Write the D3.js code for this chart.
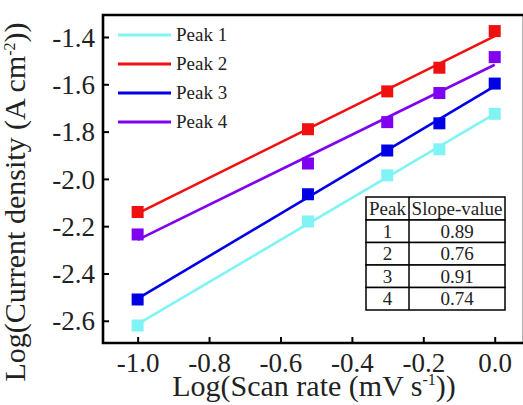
<!DOCTYPE html>
<html>
<head>
<meta charset="utf-8">
<script src="https://cdn.jsdelivr.net/npm/d3@7"></script>
<style>
  html, body { margin: 0; padding: 0; background: #fff; }
  svg { display: block; font-family: "Liberation Serif", "Times New Roman", serif; }
</style>
</head>
<body>
<svg id="chart" width="523" height="405"></svg>
<script>
// Log(scan rate) values, shared by every peak
const scanRate = [-1.0, -0.523, -0.301, -0.155, 0.0];

const peakNames = ["Peak 1", "Peak 2", "Peak 3", "Peak 4"];
const peakColors = ["#80f4f4", "#f01010", "#0000e6", "#8000f0"];

// Log(current density) per peak
const peak1 = [-2.62, -2.18, -1.985, -1.875, -1.725];
const peak2 = [-2.14, -1.79, -1.63, -1.53, -1.375];
const peak3 = [-2.51, -2.065, -1.88, -1.765, -1.597];
const peak4 = [-2.235, -1.935, -1.76, -1.637, -1.485];

const xTicks = [-1.0, -0.8, -0.6, -0.4, -0.2, 0.0];
const yTicks = [-2.6, -2.4, -2.2, -2.0, -1.8, -1.6, -1.4];

// inset table
const tablePeaks = ["1", "2", "3", "4"];
const tableSlopes = ["0.89", "0.76", "0.91", "0.74"];

const series = [peak1, peak2, peak3, peak4].map((vals, i) => ({
    name: peakNames[i],
    color: peakColors[i],
    points: vals.map((v, j) => ({ x: scanRate[j], y: v }))
}));

// least squares line through the points
function linearFit(pts) {
    const mx = d3.mean(pts, d => d.x), my = d3.mean(pts, d => d.y);
    const b = d3.sum(pts, d => (d.x - mx) * (d.y - my)) / d3.sum(pts, d => (d.x - mx) ** 2);
    return { a: my - b * mx, b: b };
}

const svg = d3.select("#chart");

const plot = { left: 103, right: 524, top: 15, bottom: 343 };

const x = d3.scaleLinear().domain([-1.097, 0.082]).range([plot.left, plot.right]);
const y = d3.scaleLinear().domain([-2.694, -1.307]).range([plot.bottom, plot.top]);

// --- fit lines ---
const xExt = d3.extent(scanRate);
const line = d3.line().x(d => x(d.x)).y(d => y(d.y));

series.forEach(s => {
    const f = linearFit(s.points);
    s.fit = xExt.map(v => ({ x: v, y: f.a + f.b * v }));
});

svg.append("g").selectAll("path")
    .data(series)
    .enter()
    .append("path")
    .attr("d", d => line(d.fit))
    .attr("fill", "none")
    .attr("stroke", d => d.color)
    .attr("stroke-width", 2.6);

// --- square markers ---
const size = 12;
series.forEach(s => {
    svg.append("g").selectAll("rect")
        .data(s.points)
        .enter()
        .append("rect")
        .attr("x", d => x(d.x) - size / 2)
        .attr("y", d => y(d.y) - size / 2)
        .attr("width", size)
        .attr("height", size)
        .attr("fill", s.color);
});

// --- axes ---
const xAxis = d3.axisBottom(x).tickValues(xTicks).tickSizeInner(-6).tickSizeOuter(0)
    .tickFormat(d => d.toFixed(1));
const yAxis = d3.axisLeft(y).tickValues(yTicks).tickSizeInner(-6).tickSizeOuter(0)
    .tickFormat(d => d.toFixed(1));

const gx = svg.append("g").attr("transform", `translate(0,${plot.bottom})`).call(xAxis);
const gy = svg.append("g").attr("transform", `translate(${plot.left},0)`).call(yAxis);

[gx, gy].forEach(g => {
    g.attr("font-family", null);
    g.select(".domain").remove();
    g.selectAll(".tick line").attr("stroke", "#000").attr("stroke-width", 2);
    g.selectAll(".tick text")
        .attr("fill", "#222")
        .style("font-size", "27px")
        .style("font-family", "'Liberation Serif', serif");
});
gx.selectAll(".tick text").attr("y", 10).attr("dy", "0.72em");
gy.selectAll(".tick text").attr("x", -8).attr("dy", "0.34em");

// frame
svg.append("path")
    .attr("d", `M${plot.left},${plot.bottom}V${plot.top}H${plot.right}V${plot.bottom}Z`)
    .attr("fill", "none")
    .attr("stroke", "#000")
    .attr("stroke-width", 2.6);

// --- axis titles ---
const xTitle = svg.append("text")
    .attr("x", 314)
    .attr("y", 396)
    .attr("text-anchor", "middle")
    .attr("fill", "#222")
    .style("font-size", "30px");
xTitle.append("tspan").text("Log(Scan rate (mV s");
xTitle.append("tspan").attr("dy", -11).style("font-size", "16px").text("-1");
xTitle.append("tspan").attr("dy", 11).text("))");

const yTitle = svg.append("text")
    .attr("transform", "translate(25,202) rotate(-90)")
    .attr("text-anchor", "middle")
    .attr("fill", "#222")
    .style("font-size", "30px");
yTitle.append("tspan").text("Log(Current density (A cm");
yTitle.append("tspan").attr("dy", -10).style("font-size", "16px").text("-2");
yTitle.append("tspan").attr("dy", 10).text("))");

// --- legend ---
const legend = svg.append("g").selectAll("g")
    .data(series)
    .enter()
    .append("g")
    .attr("transform", (d, i) => `translate(118,${35 + i * 29})`);

legend.append("line")
    .attr("x1", 0).attr("x2", 53)
    .attr("stroke", d => d.color)
    .attr("stroke-width", 3);

legend.append("text")
    .attr("x", 58)
    .attr("dy", "0.34em")
    .attr("fill", "#222")
    .style("font-size", "19px")
    .text(d => d.name);

// --- slope table ---
const tbl = { x: 366, y: 197, w: 139, col: 43, head: 23, row: 22.5 };
const tg = svg.append("g");
const rows = [["Peak", "Slope-value"]].concat(tablePeaks.map((p, i) => [p, tableSlopes[i]]));

function cellText(cx, cy, txt) {
    tg.append("text")
        .attr("x", cx)
        .attr("y", cy)
        .attr("dy", "0.35em")
        .attr("text-anchor", "middle")
        .attr("fill", "#222")
        .style("font-size", "19px")
        .text(txt);
}

rows.forEach((r, i) => {
    const top = i === 0 ? tbl.y : tbl.y + tbl.head + (i - 1) * tbl.row;
    const h = i === 0 ? tbl.head : tbl.row;
    tg.append("rect")
        .attr("x", tbl.x).attr("y", top)
        .attr("width", tbl.w).attr("height", h)
        .attr("fill", "#fff")
        .attr("stroke", "#000")
        .attr("stroke-width", 1.5);
    tg.append("line")
        .attr("x1", tbl.x + tbl.col).attr("x2", tbl.x + tbl.col)
        .attr("y1", top).attr("y2", top + h)
        .attr("stroke", "#000")
        .attr("stroke-width", 1.5);
    cellText(tbl.x + tbl.col / 2, top + h / 2, r[0]);
    cellText(tbl.x + tbl.col + (tbl.w - tbl.col) / 2, top + h / 2, r[1]);
});
</script>
</body>
</html>
